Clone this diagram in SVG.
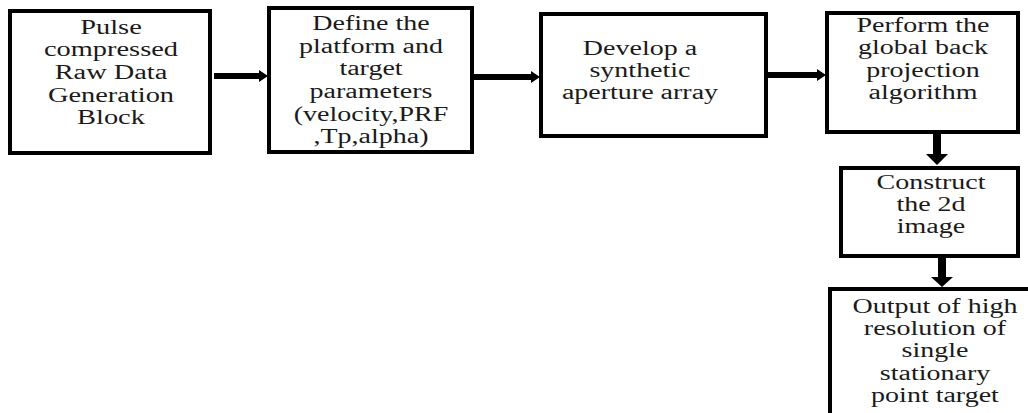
<svg xmlns="http://www.w3.org/2000/svg" width="1028" height="413" viewBox="0 0 1028 413">
<style>
.box{fill:#fff;stroke:#000;stroke-width:4}
.t{font-family:"Liberation Serif","Times New Roman",serif;font-size:20px;fill:#1a1a1a;text-anchor:middle}
.arr{fill:#000}
</style>
<rect width="1028" height="413" fill="#fff"/>
<g id="n1"><rect class="box" x="10" y="11" width="200" height="142"/>
<text class="t" transform="translate(111,0) scale(1.42,1)"><tspan x="0" y="34">Pulse</tspan><tspan x="0" y="56">compressed</tspan><tspan x="0" y="79">Raw Data</tspan><tspan x="0" y="102">Generation</tspan><tspan x="0" y="124">Block</tspan></text></g>
<g id="n2"><rect class="box" x="269" y="8" width="203" height="144"/>
<text class="t" transform="translate(371,0) scale(1.4,1)"><tspan x="0" y="30">Define the</tspan><tspan x="0" y="53">platform and</tspan><tspan x="0" y="75">target</tspan><tspan x="0" y="98">parameters</tspan><tspan x="0" y="121">(velocity,PRF</tspan><tspan x="0" y="143">,Tp,alpha)</tspan></text></g>
<g id="n3"><rect class="box" x="541" y="14" width="225" height="122"/>
<text class="t" transform="translate(640,0) scale(1.4,1)"><tspan x="0" y="55">Develop a</tspan><tspan x="0" y="77">synthetic</tspan><tspan x="0" y="99">aperture array</tspan></text></g>
<g id="n4"><rect class="box" x="827" y="13" width="191" height="119"/>
<text class="t" transform="translate(923,0) scale(1.4,1)"><tspan x="0" y="32">Perform the</tspan><tspan x="0" y="54">global back</tspan><tspan x="0" y="77">projection</tspan><tspan x="0" y="99">algorithm</tspan></text></g>
<g id="n5"><rect class="box" x="841" y="168" width="177" height="88"/>
<text class="t" transform="translate(931,0) scale(1.4,1)"><tspan x="0" y="189">Construct</tspan><tspan x="0" y="211">the 2d</tspan><tspan x="0" y="233">image</tspan></text></g>
<g id="n6"><rect class="box" x="830" y="289" width="210" height="140"/>
<text class="t" transform="translate(935,0) scale(1.4,1)"><tspan x="0" y="313">Output of high</tspan><tspan x="0" y="335">resolution of</tspan><tspan x="0" y="357">single</tspan><tspan x="0" y="380">stationary</tspan><tspan x="0" y="402">point target</tspan></text></g>
<g id="connectors">
<path class="arr" d="M214 73 H259 V70 L268 76 L259 82 V79 H214 Z"/>
<path class="arr" d="M474 74 H531 V71 L540 77 L531 83 V80 H474 Z"/>
<path class="arr" d="M768 72 H817 V69 L826 75 L817 81 V78 H768 Z"/>
<path class="arr" d="M933 133 H941 V154 H948 L937 165 L926 154 H933 Z"/>
<path class="arr" d="M938 257 H946 V277 H953 L942 287 L931 277 H938 Z"/>
</g>
</svg>
